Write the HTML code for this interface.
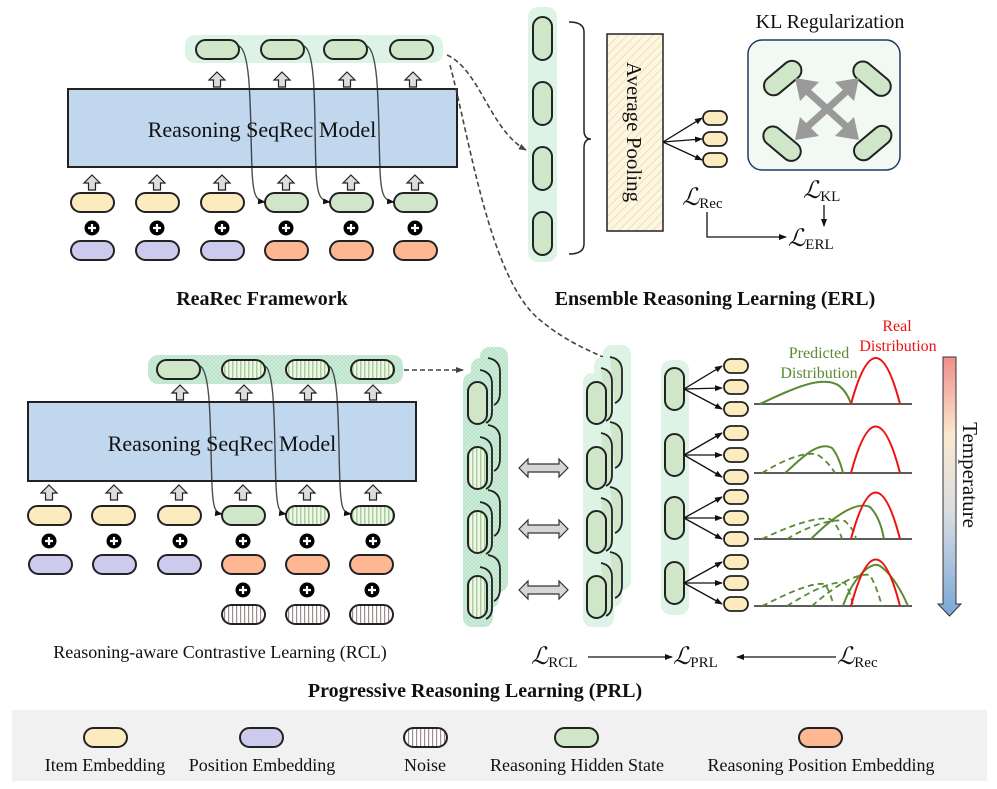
<!DOCTYPE html>
<html><head><meta charset="utf-8"><style>
html,body{margin:0;padding:0;background:#fff}
svg{display:block}
text{font-family:"Liberation Serif","DejaVu Serif",serif;fill:#111}
</style></head><body>
<svg width="997" height="789" viewBox="0 0 997 789" xmlns="http://www.w3.org/2000/svg">
<defs>
<pattern id="vs" width="4" height="4" patternUnits="userSpaceOnUse"><rect width="4" height="4" fill="#eef7e9"/><rect x="0" width="1.5" height="4" fill="#a9d09a"/></pattern>
<pattern id="ns" width="4" height="4" patternUnits="userSpaceOnUse"><rect width="4" height="4" fill="#fff"/><rect x="0" width="1.2" height="4" fill="#a08f8f"/></pattern>
<pattern id="hx" width="4" height="4" patternUnits="userSpaceOnUse"><rect width="4" height="4" fill="#d2eedd"/><path d="M0,0L4,4M4,0L0,4" stroke="#b7e2c8" stroke-width="0.8"/></pattern>
<pattern id="yh" width="6" height="6" patternUnits="userSpaceOnUse" patternTransform="rotate(45)"><rect width="6" height="6" fill="#fdf6e3"/><rect width="1" height="6" fill="#f2dfb0"/></pattern>
<linearGradient id="tg" x1="0" y1="0" x2="0" y2="1"><stop offset="0" stop-color="#f08f8a"/><stop offset="0.3" stop-color="#fbe8cf"/><stop offset="0.6" stop-color="#d9dde0"/><stop offset="1" stop-color="#7aa7d8"/></linearGradient>
<marker id="ah" markerWidth="8" markerHeight="8" refX="7" refY="4" orient="auto" markerUnits="userSpaceOnUse"><path d="M0,1L8,4L0,7Z" fill="#111"/></marker>
<marker id="ad" markerWidth="8" markerHeight="8" refX="7" refY="4" orient="auto" markerUnits="userSpaceOnUse"><path d="M0,1L8,4L0,7Z" fill="#444"/></marker>
<g id="up"><path d="M0,-8L8,0L3.5,0L3.5,7L-3.5,7L-3.5,0L-8,0Z" fill="#ddd" stroke="#222" stroke-width="1.2"/></g>
<g id="pl"><circle r="7.5" fill="#000"/><path d="M-4,0H4M0,-4V4" stroke="#fff" stroke-width="2.2"/></g>
</defs>

<!-- ===== Top: ReaRec Framework ===== -->
<rect x="185" y="35" width="258" height="28" rx="10" fill="#dcf3e6"/>
<g stroke="#222" stroke-width="2">
<rect x="196" y="40" width="43" height="19" rx="9.5" fill="#cfe6c9"/>
<rect x="261" y="40" width="43" height="19" rx="9.5" fill="#cfe6c9"/>
<rect x="324" y="40" width="43" height="19" rx="9.5" fill="#cfe6c9"/>
<rect x="390" y="40" width="43" height="19" rx="9.5" fill="#cfe6c9"/>
</g>
<use href="#up" x="217" y="80"/><use href="#up" x="282" y="80"/><use href="#up" x="347" y="80"/><use href="#up" x="413" y="80"/>
<rect x="68" y="89" width="389" height="78" fill="#c0d7ee" stroke="#222" stroke-width="2"/>
<text x="262" y="137" font-size="22" text-anchor="middle">Reasoning SeqRec Model</text>
<g>
<use href="#up" x="92" y="183"/><use href="#up" x="157" y="183"/><use href="#up" x="222" y="183"/><use href="#up" x="286" y="183"/><use href="#up" x="351" y="183"/><use href="#up" x="415" y="183"/>
</g>
<g stroke="#222" stroke-width="2">
<rect x="71" y="193" width="43" height="19" rx="9.5" fill="#fdebc0"/>
<rect x="136" y="193" width="43" height="19" rx="9.5" fill="#fdebc0"/>
<rect x="201" y="193" width="43" height="19" rx="9.5" fill="#fdebc0"/>
<rect x="265" y="193" width="43" height="19" rx="9.5" fill="#cfe6c9"/>
<rect x="330" y="193" width="43" height="19" rx="9.5" fill="#cfe6c9"/>
<rect x="394" y="193" width="43" height="19" rx="9.5" fill="#cfe6c9"/>
<rect x="71" y="241" width="43" height="19" rx="9.5" fill="#cccbee"/>
<rect x="136" y="241" width="43" height="19" rx="9.5" fill="#cccbee"/>
<rect x="201" y="241" width="43" height="19" rx="9.5" fill="#cccbee"/>
<rect x="265" y="241" width="43" height="19" rx="9.5" fill="#fdb793"/>
<rect x="330" y="241" width="43" height="19" rx="9.5" fill="#fdb793"/>
<rect x="394" y="241" width="43" height="19" rx="9.5" fill="#fdb793"/>
</g>
<use href="#pl" x="92" y="228"/><use href="#pl" x="157" y="228"/><use href="#pl" x="222" y="228"/><use href="#pl" x="286" y="228"/><use href="#pl" x="351" y="228"/><use href="#pl" x="415" y="228"/>
<g fill="none" stroke="#222" stroke-opacity="0.8" stroke-width="1.4" marker-end="url(#ah)">
<path d="M239,46 C252,52 250,120 252,170 C253,195 256,201 265,202"/>
<path d="M304,46 C317,52 314,120 316,170 C317,195 320,201 330,202"/>
<path d="M367,46 C380,52 378,120 380,170 C381,195 384,201 394,202"/>
</g>
<text x="262" y="305" font-size="20" font-weight="bold" text-anchor="middle">ReaRec Framework</text>

<!-- dashed connectors -->
<g fill="none" stroke="#444" stroke-width="1.6" stroke-dasharray="5,3">
<path d="M447,55 C480,70 490,130 526,150" marker-end="url(#ad)"/>
<path d="M450,65 C470,140 490,280 540,320 C570,345 595,352 608,360" marker-end="url(#ad)"/>
<path d="M404,370 L463,370" marker-end="url(#ad)"/>
</g>

<!-- ===== ERL ===== -->
<rect x="528" y="7" width="29" height="255" rx="10" fill="#dcf3e6"/>
<g stroke="#222" stroke-width="2" fill="#cfe6c9">
<rect x="533" y="17" width="19" height="43" rx="9.5"/>
<rect x="533" y="82" width="19" height="43" rx="9.5"/>
<rect x="533" y="147" width="19" height="43" rx="9.5"/>
<rect x="533" y="212" width="19" height="43" rx="9.5"/>
</g>
<path d="M569,22 Q584,22 584,32 V130 Q584,139 591,139 Q584,139 584,148 V244 Q584,254 569,254" fill="none" stroke="#222" stroke-width="1.5"/>
<rect x="607" y="34" width="56" height="197" fill="url(#yh)" stroke="#222" stroke-width="1.5"/>
<text transform="translate(627,132) rotate(90)" font-size="21" text-anchor="middle">Average Pooling</text>
<g stroke="#111" stroke-width="1.3" marker-end="url(#ah)">
<line x1="663" y1="142" x2="702" y2="118"/><line x1="663" y1="142" x2="702" y2="139"/><line x1="663" y1="142" x2="702" y2="160"/>
</g>
<g stroke="#222" stroke-width="1.8" fill="#fdebc0">
<rect x="703" y="111" width="24" height="14" rx="7"/><rect x="703" y="132" width="24" height="14" rx="7"/><rect x="703" y="153" width="24" height="14" rx="7"/>
</g>
<text x="682" y="205" font-size="24" font-style="italic">ℒ<tspan font-size="15" font-style="normal" dy="3">Rec</tspan></text>
<path d="M707,212 V237 H786" fill="none" stroke="#111" stroke-width="1.3" marker-end="url(#ah)"/>
<text x="788" y="246" font-size="24" font-style="italic">ℒ<tspan font-size="15" font-style="normal" dy="3">ERL</tspan></text>
<text x="830" y="28" font-size="20" text-anchor="middle">KL Regularization</text>
<rect x="748" y="40" width="152" height="130" rx="14" fill="#f2f9f3" stroke="#1f3a6a" stroke-width="1.5"/>
<g stroke="#222" stroke-width="2" fill="#cfe6c9">
<rect x="761" y="69" width="43" height="19" rx="9.5" transform="rotate(-40 782 78)"/>
<rect x="851" y="69" width="43" height="19" rx="9.5" transform="rotate(40 872 78)"/>
<rect x="761" y="134" width="43" height="19" rx="9.5" transform="rotate(40 782 143)"/>
<rect x="851" y="134" width="43" height="19" rx="9.5" transform="rotate(-40 872 143)"/>
</g>
<g stroke="#9a9a9a" stroke-width="7">
<line x1="806" y1="90" x2="848" y2="128"/><line x1="848" y1="90" x2="806" y2="128"/>
</g>
<g fill="#9a9a9a">
<path d="M795,78L819,82L800,101Z"/><path d="M859,78L835,82L854,101Z"/><path d="M795,140L800,117L819,136Z"/><path d="M859,140L854,117L835,136Z"/>
</g>
<text x="803" y="198" font-size="24" font-style="italic">ℒ<tspan font-size="15" font-style="normal" dy="3">KL</tspan></text>
<line x1="824" y1="205" x2="824" y2="226" stroke="#111" stroke-width="1.3" marker-end="url(#ah)"/>
<text x="715" y="305" font-size="20" font-weight="bold" text-anchor="middle">Ensemble Reasoning Learning (ERL)</text>

<!-- ===== Lower-left RCL ===== -->
<rect x="148" y="355" width="255" height="29" rx="10" fill="url(#hx)"/>
<g stroke="#222" stroke-width="2">
<rect x="157" y="360" width="43" height="19" rx="9.5" fill="#cfe6c9"/>
<rect x="222" y="360" width="43" height="19" rx="9.5" fill="url(#vs)"/>
<rect x="286" y="360" width="43" height="19" rx="9.5" fill="url(#vs)"/>
<rect x="351" y="360" width="43" height="19" rx="9.5" fill="url(#vs)"/>
</g>
<use href="#up" x="180" y="393"/><use href="#up" x="244" y="393"/><use href="#up" x="308" y="393"/><use href="#up" x="373" y="393"/>
<rect x="28" y="402" width="388" height="79" fill="#c0d7ee" stroke="#222" stroke-width="2"/>
<text x="222" y="451" font-size="22" text-anchor="middle">Reasoning SeqRec Model</text>
<use href="#up" x="49" y="493"/><use href="#up" x="114" y="493"/><use href="#up" x="179" y="493"/><use href="#up" x="243" y="493"/><use href="#up" x="307" y="493"/><use href="#up" x="373" y="493"/>
<g stroke="#222" stroke-width="2">
<rect x="28" y="506" width="43" height="19" rx="9.5" fill="#fdebc0"/>
<rect x="92" y="506" width="43" height="19" rx="9.5" fill="#fdebc0"/>
<rect x="158" y="506" width="43" height="19" rx="9.5" fill="#fdebc0"/>
<rect x="222" y="506" width="43" height="19" rx="9.5" fill="#cfe6c9"/>
<rect x="286" y="506" width="43" height="19" rx="9.5" fill="url(#vs)"/>
<rect x="351" y="506" width="43" height="19" rx="9.5" fill="url(#vs)"/>
<rect x="29" y="555" width="43" height="19" rx="9.5" fill="#cccbee"/>
<rect x="93" y="555" width="43" height="19" rx="9.5" fill="#cccbee"/>
<rect x="158" y="555" width="43" height="19" rx="9.5" fill="#cccbee"/>
<rect x="222" y="555" width="43" height="19" rx="9.5" fill="#fdb793"/>
<rect x="286" y="555" width="43" height="19" rx="9.5" fill="#fdb793"/>
<rect x="350" y="555" width="43" height="19" rx="9.5" fill="#fdb793"/>
<rect x="222" y="605" width="43" height="19" rx="9.5" fill="url(#ns)"/>
<rect x="286" y="605" width="43" height="19" rx="9.5" fill="url(#ns)"/>
<rect x="350" y="605" width="43" height="19" rx="9.5" fill="url(#ns)"/>
</g>
<use href="#pl" x="49" y="541"/><use href="#pl" x="114" y="541"/><use href="#pl" x="180" y="541"/><use href="#pl" x="243" y="541"/><use href="#pl" x="307" y="541"/><use href="#pl" x="373" y="541"/>
<use href="#pl" x="243" y="590"/><use href="#pl" x="307" y="590"/><use href="#pl" x="372" y="590"/>
<g fill="none" stroke="#222" stroke-opacity="0.8" stroke-width="1.4" marker-end="url(#ah)">
<path d="M200,366 C212,372 210,440 212,485 C213,508 215,513 222,514"/>
<path d="M265,366 C276,372 274,440 276,485 C277,508 279,513 286,514"/>
<path d="M329,366 C340,372 338,440 340,485 C341,508 343,513 351,514"/>
</g>
<text x="220" y="658" font-size="18" text-anchor="middle">Reasoning-aware Contrastive Learning (RCL)</text>
<text x="475" y="697" font-size="20" font-weight="bold" text-anchor="middle">Progressive Reasoning Learning (PRL)</text>

<!-- ===== PRL stacks ===== -->
<g>
<rect x="480" y="347" width="28" height="245" rx="9" fill="url(#hx)"/>
<rect x="471" y="358" width="28" height="250" rx="9" fill="url(#hx)"/>
<rect x="463" y="373" width="30" height="254" rx="9" fill="url(#hx)"/>
<g fill="none" stroke="#222" stroke-width="1.8">
<path d="M488,358 Q500,360 500,372 V392 Q500,402 494,405"/><path d="M480,370 Q492,372 492,384 V412 Q492,420 486,423"/>
<path d="M488,425 Q500,427 500,439 V458 Q500,468 494,471"/><path d="M480,437 Q492,439 492,451 V478 Q492,486 486,489"/>
<path d="M488,490 Q500,492 500,504 V523 Q500,533 494,536"/><path d="M480,502 Q492,504 492,516 V543 Q492,551 486,554"/>
<path d="M488,555 Q500,557 500,569 V588 Q500,598 494,601"/><path d="M480,567 Q492,569 492,581 V608 Q492,616 486,619"/>
</g>
<g stroke="#222" stroke-width="2">
<rect x="468" y="382" width="19" height="42" rx="9.5" fill="#cfe6c9"/>
<rect x="468" y="447" width="19" height="42" rx="9.5" fill="url(#vs)"/>
<rect x="468" y="511" width="19" height="42" rx="9.5" fill="url(#vs)"/>
<rect x="468" y="576" width="19" height="42" rx="9.5" fill="url(#vs)"/>
</g>
</g>
<g>
<rect x="603" y="345" width="28" height="245" rx="9" fill="#dcf3e6"/>
<rect x="594" y="357" width="28" height="250" rx="9" fill="#dcf3e6"/>
<rect x="583" y="373" width="31" height="254" rx="9" fill="#dcf3e6"/>
<g fill="#cfe6c9" stroke="#222" stroke-width="1.8">
<path d="M610,357 Q622,359 622,371 V390 Q622,400 615,403"/><path d="M601,368 Q612,370 612,382 V410 Q612,418 606,421"/>
<path d="M610,422 Q622,424 622,436 V455 Q622,465 615,468"/><path d="M601,433 Q612,435 612,447 V475 Q612,483 606,486"/>
<path d="M610,487 Q622,489 622,501 V520 Q622,530 615,533"/><path d="M601,498 Q612,500 612,512 V540 Q612,548 606,551"/>
<path d="M610,552 Q622,554 622,566 V585 Q622,595 615,598"/><path d="M601,563 Q612,565 612,577 V605 Q612,613 606,616"/>
</g>
<g stroke="#222" stroke-width="2" fill="#cfe6c9">
<rect x="587" y="382" width="19" height="42" rx="9.5"/>
<rect x="587" y="447" width="19" height="42" rx="9.5"/>
<rect x="587" y="511" width="19" height="42" rx="9.5"/>
<rect x="587" y="576" width="19" height="42" rx="9.5"/>
</g>
</g>
<g fill="#d6d6d6" stroke="#333" stroke-width="1.2">
<path d="M519,468 L528,459 V464 H559 V459 L568,468 L559,477 V472 H528 V477 Z"/>
<path d="M519,529 L528,520 V525 H559 V520 L568,529 L559,538 V533 H528 V538 Z"/>
<path d="M519,590 L528,581 V586 H559 V581 L568,590 L559,599 V594 H528 V599 Z"/>
</g>

<!-- third column -->
<rect x="661" y="360" width="28" height="255" rx="10" fill="#dcf3e6"/>
<g stroke="#222" stroke-width="2" fill="#cfe6c9">
<rect x="665" y="368" width="19" height="42" rx="9.5"/>
<rect x="665" y="434" width="19" height="42" rx="9.5"/>
<rect x="665" y="497" width="19" height="42" rx="9.5"/>
<rect x="665" y="562" width="19" height="42" rx="9.5"/>
</g>
<g stroke="#111" stroke-width="1.3" marker-end="url(#ah)">
<line x1="684" y1="389" x2="722" y2="366"/><line x1="684" y1="389" x2="722" y2="388"/><line x1="684" y1="389" x2="722" y2="409"/>
<line x1="684" y1="455" x2="722" y2="433"/><line x1="684" y1="455" x2="722" y2="455"/><line x1="684" y1="455" x2="722" y2="477"/>
<line x1="684" y1="518" x2="722" y2="497"/><line x1="684" y1="518" x2="722" y2="518"/><line x1="684" y1="518" x2="722" y2="539"/>
<line x1="684" y1="583" x2="722" y2="562"/><line x1="684" y1="583" x2="722" y2="583"/><line x1="684" y1="583" x2="722" y2="604"/>
</g>
<g stroke="#222" stroke-width="1.8" fill="#fdebc0">
<rect x="724" y="359" width="24" height="14" rx="7"/><rect x="724" y="380" width="24" height="14" rx="7"/><rect x="724" y="402" width="24" height="14" rx="7"/>
<rect x="724" y="426" width="24" height="14" rx="7"/><rect x="724" y="448" width="24" height="14" rx="7"/><rect x="724" y="470" width="24" height="14" rx="7"/>
<rect x="724" y="490" width="24" height="14" rx="7"/><rect x="724" y="511" width="24" height="14" rx="7"/><rect x="724" y="532" width="24" height="14" rx="7"/>
<rect x="724" y="555" width="24" height="14" rx="7"/><rect x="724" y="576" width="24" height="14" rx="7"/><rect x="724" y="597" width="24" height="14" rx="7"/>
</g>

<!-- distributions -->
<g stroke="#444" stroke-width="1.8">
<line x1="754" y1="404" x2="912" y2="404"/><line x1="754" y1="473" x2="912" y2="473"/>
<line x1="754" y1="539" x2="912" y2="539"/><line x1="754" y1="606" x2="912" y2="606"/>
</g>
<g fill="none" stroke="#5a8a33" stroke-width="2">
<path d="M760,404 C790,390 820,375 838,385 C845,390 849,398 851,404"/>
<path d="M785,473 C800,460 818,440 832,448 C838,455 841,465 843,473"/>
<path d="M811,539 C830,520 855,500 870,507 C878,515 882,528 884,539"/>
<path d="M843,606 C852,580 870,560 880,566 C892,574 902,592 908,606"/>
</g>
<g fill="none" stroke="#5a8a33" stroke-width="1.8" stroke-dasharray="6,4">
<path d="M762,473 C780,462 805,450 818,455 C826,460 832,468 835,473"/>
<path d="M762,539 C785,528 815,516 830,519 C838,525 840,533 842,539"/>
<path d="M787,539 C805,528 830,518 845,521 C852,528 855,533 856,539"/>
<path d="M762,606 C785,595 810,582 825,584 C830,592 832,600 834,606"/>
<path d="M787,606 C805,595 830,580 845,583 C850,592 852,600 853,606"/>
<path d="M812,606 C830,590 855,572 870,575 C878,590 880,600 882,606"/>
</g>
<g fill="none" stroke="#ee1111" stroke-width="2">
<path d="M851,404 Q876,312 900,404"/>
<path d="M851,473 Q876,380 900,473"/>
<path d="M851,539 Q876,446 900,539"/>
<path d="M851,606 Q876,513 900,606"/>
</g>
<text x="819" y="358" font-size="16" text-anchor="middle" style="fill:#5a8a33">Predicted</text>
<text x="819" y="378" font-size="16" text-anchor="middle" style="fill:#5a8a33">Distribution</text>
<text x="897" y="331" font-size="16" text-anchor="middle" style="fill:#ee1111">Real</text>
<text x="898" y="351" font-size="16" text-anchor="middle" style="fill:#ee1111">Distribution</text>
<path d="M943,357 H956 V604 H961 L949.5,616 L938,604 H943 Z" fill="url(#tg)" stroke="#333" stroke-width="1"/>
<text transform="translate(963,475) rotate(90)" font-size="21" text-anchor="middle">Temperature</text>

<!-- losses -->
<text x="531" y="664" font-size="24" font-style="italic">ℒ<tspan font-size="15" font-style="normal" dy="3">RCL</tspan></text>
<line x1="588" y1="657" x2="672" y2="657" stroke="#111" stroke-width="1.3" marker-end="url(#ah)"/>
<text x="673" y="664" font-size="24" font-style="italic">ℒ<tspan font-size="15" font-style="normal" dy="3">PRL</tspan></text>
<line x1="836" y1="657" x2="737" y2="657" stroke="#111" stroke-width="1.3" marker-end="url(#ah)"/>
<text x="837" y="664" font-size="24" font-style="italic">ℒ<tspan font-size="15" font-style="normal" dy="3">Rec</tspan></text>

<!-- legend -->
<rect x="12" y="710" width="975" height="71" fill="#f1f1f1"/>
<g stroke="#222" stroke-width="2">
<rect x="84" y="728" width="43" height="19" rx="9.5" fill="#fdebc0"/>
<rect x="240" y="728" width="43" height="19" rx="9.5" fill="#cccbee"/>
<rect x="404" y="728" width="43" height="19" rx="9.5" fill="url(#ns)"/>
<rect x="555" y="728" width="43" height="19" rx="9.5" fill="#cfe6c9"/>
<rect x="799" y="728" width="43" height="19" rx="9.5" fill="#fdb793"/>
</g>
<g font-size="18" text-anchor="middle">
<text x="105" y="771">Item Embedding</text>
<text x="262" y="771">Position Embedding</text>
<text x="425" y="771">Noise</text>
<text x="577" y="771">Reasoning Hidden State</text>
<text x="821" y="771">Reasoning Position Embedding</text>
</g>
</svg>
</body></html>
